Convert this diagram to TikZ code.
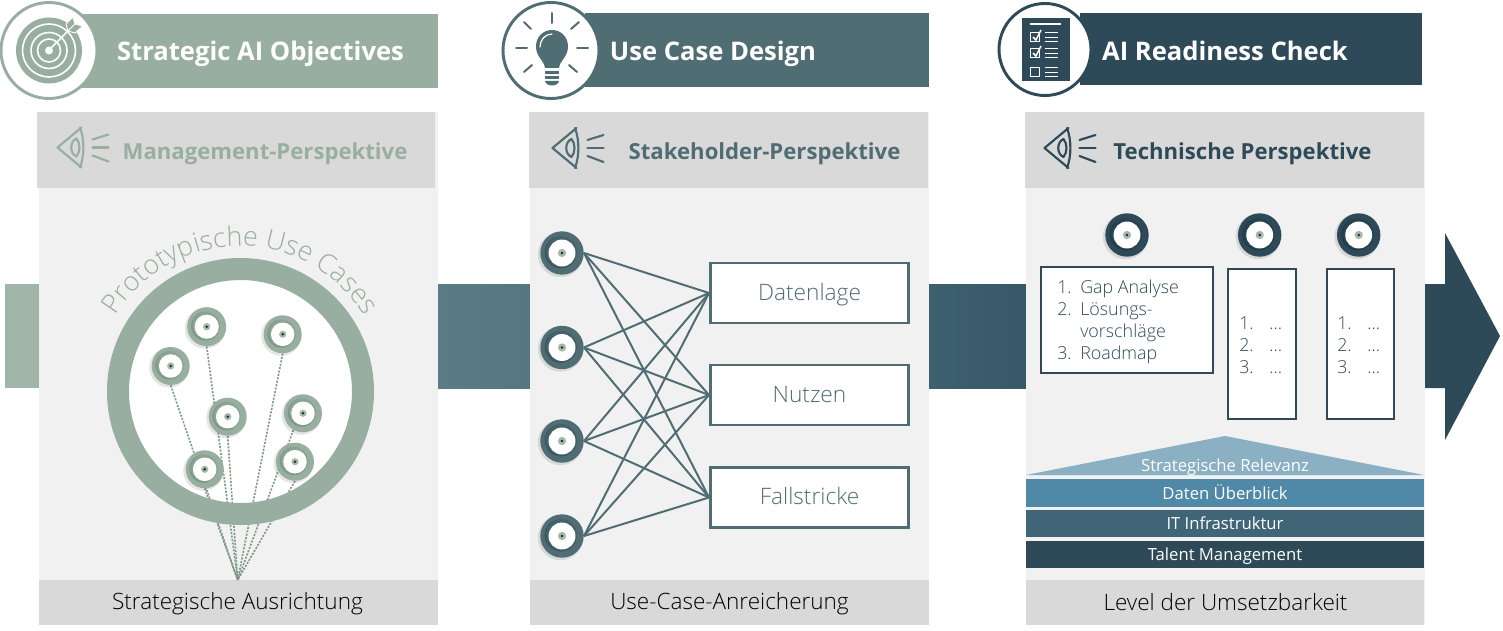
\documentclass[tikz,border=0pt]{standalone}
\usepackage{fontspec}
\setmainfont{Open Sans}
\newfontfamily\oslight{Open Sans Light}
\usetikzlibrary{decorations.text}
\definecolor{sage}{HTML}{98AEA0}
\definecolor{sagedark}{HTML}{7C9886}
\definecolor{teal}{HTML}{506D73}
\definecolor{tealdark}{HTML}{3C575D}
\definecolor{navy}{HTML}{2E4A58}
\definecolor{navydark}{HTML}{233C49}
\definecolor{panelbg}{HTML}{F1F1F1}
\definecolor{hdr}{HTML}{D9D9D9}
\definecolor{pupil}{HTML}{A4B8AC}
\definecolor{flowa}{HTML}{5C7C85}
\definecolor{flowb}{HTML}{567780}
\definecolor{flowc}{HTML}{3D6070}
\definecolor{flowd}{HTML}{375868}
\definecolor{stacka}{HTML}{8BB0C4}
\definecolor{stackb}{HTML}{5089A8}
\definecolor{stackc}{HTML}{3F6577}
\pgfdeclarelayer{panels}\pgfdeclarelayer{lines}\pgfdeclarelayer{ring}
\pgfsetlayers{panels,lines,ring,main}
\tikzset{
  titletext/.style={text=white,inner sep=0pt,font=\fontsize{19.2}{23}\selectfont\bfseries},
  headtext/.style={inner sep=0pt,font=\fontsize{16.6}{21}\selectfont\bfseries},
  bartext/.style={inner sep=0pt,text=black,font=\oslight\fontsize{16.9}{19}\selectfont},
  boxlabel/.style={inner sep=0pt,text=teal,text height=13pt,text depth=2.5pt,font=\oslight\fontsize{17}{20}\selectfont},
  stacktext/.style={inner sep=0pt,text=white,text height=11.5pt,text depth=2.5pt,font=\fontsize{12.5}{15}\selectfont},
  listtext/.style={inner sep=0pt,anchor=base west,text=navy,font=\oslight\fontsize{13.4}{16}\selectfont},
  usedisc/.style={circle,inner sep=0pt,minimum size=#1*1.5pt,draw=none},
  link/.style={draw=teal,line width=1.5pt},
  dotline/.style={draw=sagedark,line width=1.2pt,dash pattern=on 1.5pt off 1.1pt},
  eyeline/.style={line width=1.6pt,line cap=round,line join=round},
  icon/.style={line cap=round,line join=round},
  critbox/.style={draw=teal,line width=2.2pt,fill=white,inner sep=0pt,minimum width=148.5pt,minimum height=45pt,boxlabel},
  listbox/.style={draw=navy,line width=1.3pt,fill=white,inner sep=0pt},
}
\newcommand{\usecasedisc}[6]{% name,x,y,radius,main,dark
  \fill[black,opacity=.10] (#2-1.5,#3+1.5) circle[radius=#4+1];
  \node[usedisc=#4,fill=#5] (#1) at (#2,#3) {};
  \fill[#6] (#2-1.3,#3-0.6) circle[radius=#4*0.74];
  \fill[#5,opacity=.5] (#2-0.6,#3-1.2) circle[radius=#4*0.70];
  \fill[white] (#1.center) circle[radius=#4*0.62];
  \fill[pupil] (#1.center) circle[radius=#4*0.19];
  \fill[black!85] (#1.center) circle[radius=1.4];
}
\newcommand{\eyeicon}[3]{% x,y,colour
  \begin{scope}[shift={(#1,#2)},#3,eyeline]
    \draw (24,-20) -- (0,0) -- (24,20);
    \draw (22.5,-20) .. controls (27,-8) and (27,8) .. (22.5,20);
    \draw (19,-9) .. controls (12,-6) and (12,6) .. (19,9);
    \draw (19,-9) .. controls (23,-4) and (23,4) .. (19,9);
    \draw (35,-8) -- (51,-13);
    \draw (35,0) -- (51,0);
    \draw (35,8) -- (51,14);
  \end{scope}
}
\begin{document}
\begin{tikzpicture}[x=0.75pt,y=-0.75pt]
\useasboundingbox (0,0) rectangle (1503,631);
\begin{pgfonlayer}{panels}
  % flow arrow
  \fill[fill=sage!92!white] (5,284) rectangle (39,388);
  \shade[left color=flowa,right color=flowb] (438,284) rectangle (530,388);
  \shade[left color=flowc,right color=flowd] (929,284) rectangle (1026,388);
  \fill[navy] (1425,284) -- (1445,284) -- (1445,233) -- (1500,336) -- (1445,440) -- (1445,388) -- (1425,388) -- cycle;
  % panels
  \fill[panelbg] (39,112) rectangle (438,625);
  \fill[panelbg] (530,112) rectangle (929,625);
  \fill[panelbg] (1026,112) rectangle (1425,625);
  \fill[hdr] (37,112) rectangle (435,188);
  \fill[hdr] (529,112) rectangle (928,188);
  \fill[hdr] (1025,112) rectangle (1424,188);
  \fill[hdr] (39,580) rectangle (438,625);
  \fill[hdr] (530,580) rectangle (929,625);
  \fill[hdr] (1026,580) rectangle (1424,625);
  % banners
  \fill[sage] (80,14) rectangle (438,88);
  \fill[teal] (585,13) rectangle (929,87);
  \fill[navy] (1080,13) rectangle (1422,85);
  % ring hole
  \fill[white] (240.5,391.5) circle[radius=112];
\end{pgfonlayer}
\begin{pgfonlayer}{ring}
  \fill[sage,even odd rule] (240.5,391.5) circle[radius=133.5] (240.5,391.5) circle[radius=111.5];
\end{pgfonlayer}

% title circles
\node[circle,draw=sage,line width=2.2pt,fill=white,minimum size=72pt,inner sep=0pt] (c1) at (49,50.5) {};
\node[circle,draw=teal,line width=2.2pt,fill=white,minimum size=72pt,inner sep=0pt] (c2) at (551,50.5) {};
\node[circle,draw=navy,line width=2.2pt,fill=white,minimum size=69pt,inner sep=0pt] (c3) at (1045,49.5) {};

% target icon
\fill[sage] (c1.center) circle[radius=33];
\foreach \r in {26.5,18,11.5}{\draw[white,line width=1.2pt] (c1.center) circle[radius=\r];}
\fill[white] (c1.center) circle[radius=4];
\draw[white,line width=1.2pt] (49,50) -- (70,29);
\fill[sage,draw=white,line width=.7pt,line join=round] (68,31) -- (66,24) -- (73,17) -- (75,24) -- cycle;
\fill[sage,draw=white,line width=.7pt,line join=round] (68,31) -- (75,33) -- (83,26) -- (75,24) -- cycle;

% bulb icon
\begin{scope}[teal,icon]
  \fill (545,68) .. controls (544,60) and (536,57) .. (536,46.5) .. controls (536,37) and (543,30) .. (552,30) .. controls (561,30) and (568,37) .. (568,46.5) .. controls (568,57) and (560,60) .. (559,68) -- cycle;
  \draw[white,line width=.9pt] (540,47) .. controls (540,40) and (545,34) .. (552,34);
  \fill (545,71) rectangle (559,74);
  \fill (545,76) rectangle (559,79);
  \fill (545,81) -- (559,81) .. controls (558,87) and (546,87) .. (545,81) -- cycle;
  \begin{scope}[line width=1.5pt,draw=teal]
    \draw (552,13) -- (552,23);
    \draw (524,22) -- (531,29);
    \draw (579,22) -- (571,29);
    \draw (516,48) -- (527,48);
    \draw (577,48) -- (588,48);
    \draw (524,72) -- (532,65);
    \draw (577,72) -- (569,65);
  \end{scope}
\end{scope}

% checklist icon
\fill[navy] (1022,18) rectangle (1070,81);
\draw[white,line width=1.8pt] (1030,24) -- (1061,24);
\foreach \y in {37,53,72}{
  \draw[white,line width=1pt] (1030.5,\y-4.5) rectangle (1039.5,\y+4.5);
  \foreach \d in {-4.5,0,4.5}{\draw[white,line width=.6pt] (1045,\y+\d) -- (1058,\y+\d);}
}
\foreach \y in {37,53}{\draw[white,line width=1.1pt] (1033,\y) -- (1036,\y+3) -- (1041,\y-7);}

% titles
\node[titletext] (t1) at (260.5,53.5) {Strategic AI Objectives};
\node[titletext] (t2) at (713,53.5) {Use Case Design};
\node[titletext] (t3) at (1225,51) {AI Readiness Check};

% headers
\eyeicon{57.5}{147.5}{sage}
\eyeicon{552.5}{148}{teal}
\eyeicon{1044.5}{148}{navy}
\node[headtext,text=sage] (h1) at (265,154) {Management-Perspektive};
\node[headtext,text=teal] (h2) at (764.5,154) {Stakeholder-Perspektive};
\node[headtext,text=navy] (h3) at (1242.5,154) {Technische Perspektive};

% bottom bars
\node[bartext] (b1) at (237.5,603.5) {Strategische Ausrichtung};
\node[bartext] (b2) at (729.5,603.5) {Use-Case-Anreicherung};
\node[bartext] (b3) at (1225.5,602) {Level der Umsetzbarkeit};

% panel 1
\path[decorate,decoration={text along path,text align=center,
  text={|\oslight\fontsize{20.2}{25}\selectfont\color{sage}|Prototypische Use Cases}}]
  (112,323) arc[start angle=152,end angle=28,radius=108.75pt];
\coordinate (focus) at (237.7,580);
\usecasedisc{d1}{206.7}{326.7}{19.5}{sage}{sagedark}
\usecasedisc{d2}{282.7}{334.3}{19}{sage}{sagedark}
\usecasedisc{d3}{170.7}{366}{19}{sage}{sagedark}
\usecasedisc{d4}{227.7}{416.7}{19}{sage}{sagedark}
\usecasedisc{d5}{303}{413.3}{19}{sage}{sagedark}
\usecasedisc{d6}{204.7}{469.3}{19}{sage}{sagedark}
\usecasedisc{d7}{295}{461.7}{19}{sage}{sagedark}
\begin{pgfonlayer}{lines}
  \foreach \n in {d1,d2,d3,d4,d6,d7}{\draw[dotline] (\n.south) -- (focus);}
  \draw[dotline] (d5.240) -- (focus);
\end{pgfonlayer}

% panel 2
\usecasedisc{s1}{562}{253}{21.7}{teal}{tealdark}
\usecasedisc{s2}{562}{347.5}{21.7}{teal}{tealdark}
\usecasedisc{s3}{562}{441}{21.7}{teal}{tealdark}
\usecasedisc{s4}{562}{536}{21.7}{teal}{tealdark}
\node[critbox] (k1) at (809.5,293) {Datenlage};
\node[critbox] (k2) at (809.5,395) {Nutzen};
\node[critbox] (k3) at (809.5,497.5) {Fallstricke};
\begin{pgfonlayer}{lines}
  \foreach \s in {s1,s2,s3,s4}{\foreach \k in {k1,k2,k3}{\draw[link] (\s.east) -- (\k.west);}}
\end{pgfonlayer}

% panel 3
\usecasedisc{p1}{1127}{235}{21.7}{navy}{navydark}
\usecasedisc{p2}{1259.7}{235}{21.7}{navy}{navydark}
\usecasedisc{p3}{1358.7}{235}{21.7}{navy}{navydark}
\node[listbox,minimum width=129.5pt,minimum height=80pt] (la) at (1127,320) {};
\node[listbox,minimum width=51.5pt,minimum height=112.5pt] (lb) at (1262,344) {};
\node[listbox,minimum width=50.5pt,minimum height=112.5pt] (lc) at (1360.5,344) {};
\node[listtext] (an1) at (1057,293) {1.};
\node[listtext] (an2) at (1057,315) {2.};
\node[listtext] (an3) at (1057,359) {3.};
\node[listtext] (la1) at (1080,293) {Gap Analyse};
\node[listtext] (la2) at (1080,315) {Lösungs-};
\node[listtext] (la3) at (1080,337) {vorschläge};
\node[listtext] (la4) at (1080,359) {Roadmap};
\foreach \x/\m in {1239/b,1337/c}{
  \foreach \y/\t in {329/1,351/2,373/3}{
    \node[listtext] (n\m\t) at (\x,\y) {\t.};
    \node[listtext] (e\m\t) at (\x+30,\y) {…};
  }
}
\fill[stacka] (1026,475) -- (1225,436) -- (1424,475) -- cycle;
\node[stacktext] (r0) at (1225,465.5) {Strategische Relevanz};
\node[fill=stackb,stacktext,minimum width=298.5pt,minimum height=20.5pt] (r1) at (1225,493) {Daten Überblick};
\node[fill=stackc,stacktext,minimum width=298.5pt,minimum height=20pt] (r2) at (1225,523.5) {IT Infrastruktur};
\node[fill=navy,stacktext,minimum width=298.5pt,minimum height=20pt] (r3) at (1225,554.5) {Talent Management};
\end{tikzpicture}
\end{document}
